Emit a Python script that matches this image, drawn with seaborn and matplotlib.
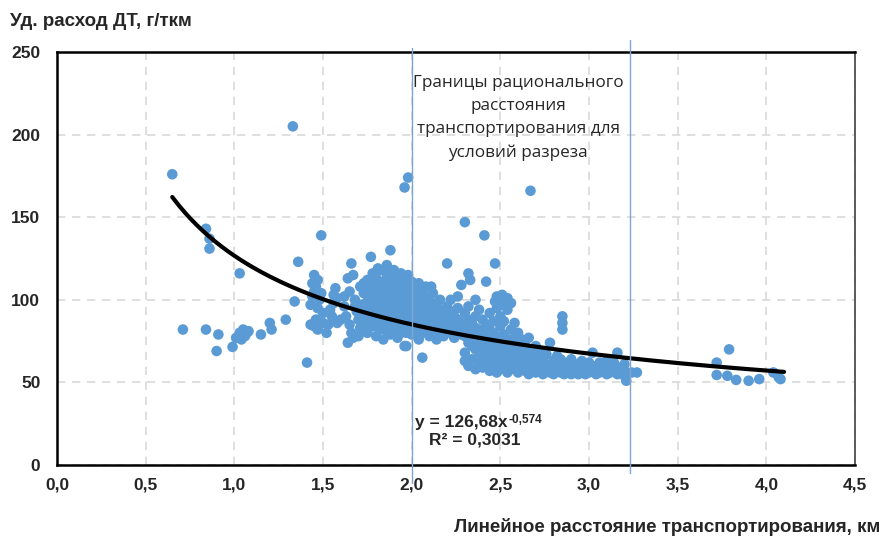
import numpy as np
import pandas as pd
import matplotlib
matplotlib.use("Agg")
import matplotlib.pyplot as plt
import seaborn as sns

# ---- data ----
x_left = [0.65, 0.84, 0.86, 0.86, 1.03, 1.36, 1.33, 0.71, 0.84, 0.91, 0.90, 0.99, 1.01, 1.03, 1.05,
          1.06, 1.07, 1.04, 1.08, 1.15, 1.20, 1.21, 1.29, 1.34, 1.41]
y_left = [176, 143, 137, 131, 116, 123, 205, 82, 82, 79, 69, 71.5, 77, 80, 82,
          78, 80, 76, 81, 79, 86, 82, 88, 99, 62]

x_mid = [1.49, 1.43, 1.45, 1.46, 1.50, 1.47, 1.43, 1.44, 1.45, 1.46, 1.47, 1.45, 1.48, 1.47, 1.49,
         1.44, 1.50, 1.56, 1.56, 1.57, 1.54, 1.55, 1.58, 1.53, 1.52, 1.58,
         1.64, 1.66, 1.64, 1.67, 1.71, 1.77, 1.81, 1.62, 1.63, 1.65, 1.66, 1.68, 1.69, 1.70,
         1.71, 1.72, 1.73, 1.74, 1.67, 1.70, 1.62, 1.65, 1.73, 1.75, 1.60, 1.68]
y_mid = [139, 85, 84, 88, 86, 82, 97, 102, 105, 108, 112, 115, 100, 95, 104,
         110, 92, 98, 103, 107, 94, 90, 101, 85, 80, 86,
         74, 122, 113, 115, 108, 126, 119, 96, 90, 85, 80, 100, 93, 88,
         83, 97, 104, 91, 77, 78, 102, 105, 110, 85, 88, 96]

# dense cluster and right tail: x value -> list of y values
cluster = {
    1.75: [80, 88, 94, 99, 105, 112], 1.78: [84, 91, 97, 102, 108, 116],
    1.80: [78, 86, 93, 100, 106, 113], 1.82: [82, 89, 95, 101, 109, 118],
    1.84: [76, 85, 92, 98, 104, 111], 1.86: [81, 88, 96, 103, 107, 115, 121],
    1.88: [79, 86, 93, 99, 105, 110, 130], 1.90: [83, 90, 97, 102, 108, 114, 118],
    1.92: [77, 85, 91, 95, 100, 106, 112], 1.94: [80, 87, 94, 99, 104, 110, 116],
    1.96: [72, 82, 89, 96, 101, 107, 113, 168], 1.97: [80, 72],
    1.98: [84, 91, 97, 103, 109, 115, 174], 2.00: [79, 86, 93, 99, 105, 111],
    2.02: [82, 88, 94, 100, 107], 2.04: [76, 85, 92, 97, 103, 110],
    2.06: [65, 80, 87, 95, 101, 106], 2.08: [83, 90, 96, 102, 108],
    2.10: [78, 86, 93, 99], 2.11: [108], 2.12: [81, 88, 95, 104],
    2.14: [76, 84, 91, 98], 2.16: [80, 87, 94, 100], 2.18: [78, 85, 92],
    2.20: [122, 82, 89, 96], 2.22: [80, 86, 93, 100], 2.24: [77, 84, 90],
    2.26: [82, 88, 95, 102], 2.28: [109, 79, 86], 2.30: [147, 63, 68, 78, 84, 92],
    2.32: [116, 60, 74, 81, 88, 96], 2.33: [112], 2.34: [64, 72, 79, 86],
    2.36: [58, 70, 76, 83, 90, 100], 2.38: [62, 68, 75, 82, 94],
    2.40: [59, 66, 73, 80, 88], 2.41: [139], 2.42: [111, 64, 70, 77, 85],
    2.44: [57, 62, 69, 76, 82, 92], 2.46: [60, 67, 73, 80, 87], 2.47: [122, 99],
    2.48: [56, 64, 71, 78, 95, 102], 2.50: [58, 62, 69, 75, 84, 90],
    2.51: [103, 97], 2.52: [60, 66, 72, 79, 87], 2.54: [56, 63, 70, 76, 94, 101],
    2.56: [58, 61, 67, 73, 82, 98], 2.58: [59, 64, 70, 77, 86],
    2.60: [56, 62, 68, 74, 80], 2.62: [58, 65, 71, 76], 2.64: [57, 60, 66, 72],
    2.66: [55, 62, 68, 77], 2.67: [166], 2.68: [58, 64, 70], 2.70: [56, 60, 66, 72],
    2.72: [57, 63, 68], 2.74: [55, 59, 65], 2.76: [57, 61, 67], 2.78: [56, 60, 74],
    2.80: [55, 58, 63], 2.82: [57, 61, 66], 2.84: [56, 59, 64], 2.85: [90, 86, 82],
    2.86: [55, 58, 62], 2.88: [57, 60], 2.90: [55, 59, 64], 2.92: [56, 58, 61],
    2.94: [55, 59], 2.96: [57, 60, 63], 2.98: [55, 58], 3.00: [56, 59, 62],
    3.02: [57, 60, 68], 3.04: [55, 58], 3.06: [56, 59, 62], 3.08: [57, 60],
    3.10: [55, 58, 63], 3.12: [56, 59], 3.14: [57, 60, 62], 3.16: [68, 58, 55],
    3.18: [56, 59], 3.20: [54, 57, 61], 3.21: [51], 3.24: [56], 3.27: [56],
}

x_right = [3.72, 3.79, 3.72, 3.78, 3.83, 3.90, 3.96, 4.04, 4.07, 4.08]
y_right = [62, 70, 54.5, 54, 51.5, 51, 52, 56, 53, 52]

# trend line parameters as printed on the chart
trend_a = 126.68
trend_b = -0.574
trend_x_range = (0.65, 4.1)

# boundaries of rational transport distance
bounds = [2.0, 3.23]

x_ticks = [0.0, 0.5, 1.0, 1.5, 2.0, 2.5, 3.0, 3.5, 4.0, 4.5]
y_ticks = [0, 50, 100, 150, 200, 250]

# ---- build table ----
xs = list(x_left) + list(x_mid)
ys = list(y_left) + list(y_mid)
for k, vals in cluster.items():
    xs += [k] * len(vals)
    ys += vals
xs += x_right
ys += y_right
df = pd.DataFrame({"x": xs, "y": ys})

# ---- plot ----
sns.set_style("white")
plt.rcParams["font.family"] = ["Liberation Sans", "DejaVu Sans"]

fig = plt.figure(figsize=(8.83, 5.38), dpi=100)
ax = fig.add_axes([57 / 883, 73 / 538, (855 - 57) / 883, (465 - 52) / 538])

ax.grid(True, color="#d9d9d9", linestyle=(0, (5, 4)), linewidth=1.2)
ax.set_axisbelow(True)

sns.scatterplot(data=df, x="x", y="y", ax=ax, color="#5b9bd5", s=58,
                edgecolor="none", linewidth=0, zorder=3, legend=False)

tx = np.linspace(trend_x_range[0], trend_x_range[1], 200)
sns.lineplot(x=tx, y=trend_a * tx ** trend_b, ax=ax, color="black", linewidth=3.0,
             zorder=4, estimator=None, sort=False)

ax.plot([bounds[0], bounds[0]], [252.5, -11], color="#7fa4cf", linewidth=1.0,
        clip_on=False, zorder=5)
ax.plot([bounds[1], bounds[1]], [257, -5], color="#7fa4cf", linewidth=1.0,
        clip_on=False, zorder=5)

ax.set_xlim(0, 4.5)
ax.set_ylim(0, 250)
ax.set_xticks(x_ticks)
ax.set_yticks(y_ticks)
ax.set_xticklabels([f"{v:.1f}".replace(".", ",") for v in x_ticks],
                   fontsize=12.5, fontweight="bold")
ax.set_yticklabels([str(v) for v in y_ticks], fontsize=12.5, fontweight="bold")
ax.tick_params(axis="x", length=0, pad=9)
ax.tick_params(axis="y", length=0, pad=12)
ax.set_xlabel("")
ax.set_ylabel("")

for side in ["left", "bottom", "top"]:
    ax.spines[side].set_color("black")
    ax.spines[side].set_linewidth(1.8)
ax.spines["right"].set_color("#404040")
ax.spines["right"].set_linewidth(1.2)

fig.text(10 / 883, 1 - 22 / 538, "Уд. расход ДТ, г/ткм", fontsize=13.5,
         fontweight="bold", ha="left", va="center")
fig.text(880 / 883, 1 - 527 / 538, "Линейное расстояние транспортирования, км",
         fontsize=13.5, fontweight="bold", ha="right", va="center")

ax.text(2.6, 236, "Границы рационального\nрасстояния\nтранспортирования для\nусловий разреза",
        ha="center", va="top", fontsize=12.3, linespacing=1.58,
        family=["Open Sans", "DejaVu Sans"], color="#262626", zorder=6)

eq = ax.text(2.02, 26, "y = 126,68x", fontsize=12.5, fontweight="bold",
             ha="left", va="center", zorder=6)
fig.canvas.draw()
bb = eq.get_window_extent(fig.canvas.get_renderer())
ax.annotate("-0,574", xy=(bb.x1, bb.y1), xycoords="figure pixels",
            xytext=(0.5, -4), textcoords="offset points",
            fontsize=8.5, fontweight="bold", ha="left", va="center", zorder=6)
ax.text(2.1, 15, "R² = 0,3031", fontsize=12.5, fontweight="bold",
        ha="left", va="center", zorder=6)

fig.savefig("out.png", dpi=100)
